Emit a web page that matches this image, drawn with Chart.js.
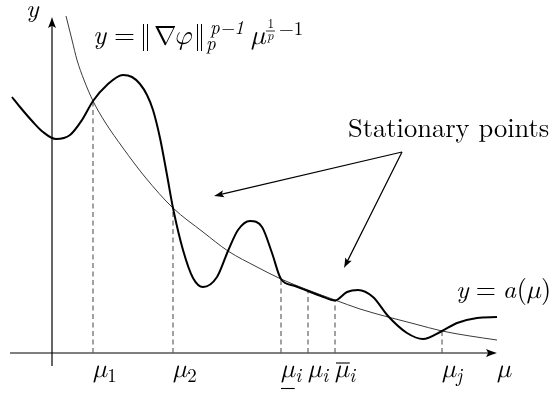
<!DOCTYPE html>
<html><head><meta charset="utf-8">
<script src="https://cdn.jsdelivr.net/npm/chart.js@4"></script>
<style>html,body{margin:0;padding:0;background:#fff}#wrap{width:553px;height:397px}</style>
</head><body><div id="wrap"><canvas id="c" width="553" height="397"></canvas></div>
<script>
// ---- data (units: horizontal/vertical distance from the origin) ----
// thick curve y = a(mu)
const curveX = [-40,-32,-19,-9,4,18,30,41,55,71,80,88,95,101,108,115,121,131,141,151,165,176,186,198,210,220,229,243,256,269,283,295,306,321,336,355,371,390,405,425,445];
const curveY = [256,246,231,221,214,218,233,252,268,278,276,269,258,243,215,178,145,103,75,66,76,102,123,132,126,100,74,67,62,57,52.5,61,63,56,37,20,14,22,30,35,36];
// thin curve y = ||grad phi||_p^{p-1} mu^{1/p-1}
const hypX = [14,20,25,32,41,53,71,93,121,151,176,205,229,256,283,308,336,363,390,418,445];
const hypY = [337,313,293,273,252,231,205,176,145,121,102,86,74,63,53,44,36,29,22,17,13];
// marked abscissae (dashed lines) and the height where each meets the curves
const markX = [41,121,229,256,283,390];
const markY = [252,145,74,63,53,22];
const markBase = ['μ','μ','μ','μ','μ','μ'];
const markSub  = ['1','2','i','i','i','j'];
const markDeco = ['','','under','','over',''];
const axisXName = 'μ', axisYName = 'y';
const noteText = 'Stationary points';

// ---- layout (not data) ----
const X_AXIS = [-42, 445];
const Y_AXIS = [-13, 336];
const NOTE_FROM = {x:350, y:201};
const NOTE_TO = [{x:162, y:157}, {x:292, y:85}];

const SERIF = "'Latin Modern Roman','Latin Modern Math','Liberation Serif',serif";
const IT = s => `italic ${s}px ${SERIF}`;
const RM = s => `${s}px ${SERIF}`;

function arrowHead(ctx, tx, ty, fx, fy, len, half) {
  const a = Math.atan2(ty - fy, tx - fx);
  ctx.save();
  ctx.translate(tx, ty); ctx.rotate(a);
  ctx.beginPath();
  ctx.moveTo(0, 0);
  ctx.quadraticCurveTo(-len*0.45, -half*0.35, -len, -half);
  ctx.lineTo(-len*0.8, 0);
  ctx.lineTo(-len, half);
  ctx.quadraticCurveTo(-len*0.45, half*0.35, 0, 0);
  ctx.closePath();
  ctx.fillStyle = '#000'; ctx.fill();
  ctx.restore();
}

function txt(ctx, s, font, x, y) { ctx.font = font; ctx.fillText(s, x, y); return ctx.measureText(s).width; }
function bar(ctx, x, y1, y2) { ctx.lineWidth = 1; ctx.beginPath(); ctx.moveTo(x, y1); ctx.lineTo(x, y2); ctx.stroke(); }

const overlay = {
  id: 'overlay',
  afterDatasetsDraw(chart) {
    const ctx = chart.ctx, xs = chart.scales.x, ys = chart.scales.y;
    const px = v => xs.getPixelForValue(v), py = v => ys.getPixelForValue(v);
    ctx.save();
    // axes arrowheads
    arrowHead(ctx, px(X_AXIS[1]), py(0), px(X_AXIS[0]), py(0), 11, 4);
    arrowHead(ctx, px(0), py(Y_AXIS[1]), px(0), py(Y_AXIS[0]), 11, 4);
    // note arrows
    ctx.strokeStyle = '#000'; ctx.lineWidth = 1.2;
    NOTE_TO.forEach(t => {
      const fx = px(NOTE_FROM.x), fy = py(NOTE_FROM.y), tx = px(t.x), ty = py(t.y);
      const a = Math.atan2(ty-fy, tx-fx);
      ctx.beginPath(); ctx.moveTo(fx, fy); ctx.lineTo(tx - 6*Math.cos(a), ty - 6*Math.sin(a)); ctx.stroke();
      arrowHead(ctx, tx, ty, fx, fy, 10, 3.6);
    });
    ctx.fillStyle = '#000'; ctx.textBaseline = 'alphabetic'; ctx.textAlign = 'left';
    // axis names
    txt(ctx, axisYName, IT(26), px(-26), py(336));
    txt(ctx, axisXName, IT(26), px(445), py(-24));
    // tick labels under the dashed lines
    markX.forEach((m, i) => {
      const x0 = px(m), y0 = py(-24);
      const w = txt(ctx, markBase[i], IT(26), x0, y0);
      const subFont = /\d/.test(markSub[i]) ? RM(19) : IT(19);
      txt(ctx, markSub[i], subFont, x0 + w + 0.5, y0 + 5);
      ctx.lineWidth = 1.1; ctx.strokeStyle = '#000';
      if (markDeco[i] === 'under') { ctx.beginPath(); ctx.moveTo(x0, y0 + 11.5); ctx.lineTo(x0 + w, y0 + 11.5); ctx.stroke(); }
      if (markDeco[i] === 'over') { ctx.beginPath(); ctx.moveTo(x0 + 1, y0 - 14); ctx.lineTo(x0 + w + 1, y0 - 14); ctx.stroke(); }
    });
    // formula for thin curve (glyph offsets from its left edge)
    {
      const x = Math.round(px(41)), y = py(309);
      txt(ctx, 'y', IT(27), x, y);
      txt(ctx, '=', RM(27), x + 21, y);
      bar(ctx, x + 50.5, y - 20, y + 7); bar(ctx, x + 54.5, y - 20, y + 7);
      txt(ctx, '∇', RM(27), x + 61, y);
      txt(ctx, 'φ', IT(27), x + 81, y);
      bar(ctx, x + 104.5, y - 20, y + 7); bar(ctx, x + 108.5, y - 20, y + 7);
      txt(ctx, 'p', IT(19), x + 113, y + 6);
      txt(ctx, 'p−1', IT(19), x + 117, y - 10);
      txt(ctx, 'μ', IT(27), x + 158, y);
      const fx = x + 173;
      txt(ctx, '1', RM(13), fx + 1.5, y - 16);
      ctx.lineWidth = 0.8; ctx.beginPath(); ctx.moveTo(fx, y - 13); ctx.lineTo(fx + 9, y - 13); ctx.stroke();
      txt(ctx, 'p', IT(13), fx + 1, y - 4);
      txt(ctx, '−1', RM(19), fx + 13, y - 9);
    }
    // note text
    txt(ctx, noteText, RM(26.5), px(296), py(216));
    // a(mu) label
    {
      let x = px(404), y = py(55);
      x += txt(ctx, 'y', IT(26), x, y) + 7;
      x += txt(ctx, '=', RM(26), x, y) + 7;
      x += txt(ctx, 'a', IT(26), x, y) + 0.5;
      x += txt(ctx, '(', RM(26), x, y);
      x += txt(ctx, 'μ', IT(26), x, y) + 0.5;
      txt(ctx, ')', RM(26), x, y);
    }
    ctx.restore();
  }
};

const pts = (xa, ya) => xa.map((x, i) => ({x, y: ya[i]}));
const datasets = [
  {data: pts(curveX, curveY), showLine: true, borderColor: '#000', borderWidth: 2, cubicInterpolationMode: 'monotone', pointRadius: 0},
  {data: pts(hypX, hypY), showLine: true, borderColor: '#3a3a3a', borderWidth: 1, cubicInterpolationMode: 'monotone', pointRadius: 0},
  ...markX.map((m, i) => ({data: [{x: m, y: 0}, {x: m, y: markY[i]}], showLine: true, borderColor: '#555', borderWidth: 1.1, borderDash: [5, 3.5], pointRadius: 0})),
  {data: [{x: X_AXIS[0], y: 0}, {x: X_AXIS[1] - 4, y: 0}], showLine: true, borderColor: '#000', borderWidth: 1.2, pointRadius: 0},
  {data: [{x: 0, y: Y_AXIS[0]}, {x: 0, y: Y_AXIS[1] - 4}], showLine: true, borderColor: '#000', borderWidth: 1.2, pointRadius: 0}
];

new Chart(document.getElementById('c'), {
  type: 'scatter',
  data: {datasets},
  options: {
    responsive: false, animation: false, devicePixelRatio: 1,
    layout: {padding: 0},
    plugins: {legend: {display: false}, tooltip: {enabled: false}},
    scales: {
      x: {type: 'linear', min: -52, max: 501, display: false},
      y: {type: 'linear', min: -44, max: 353, display: false}
    }
  },
  plugins: [overlay]
});
</script></body></html>
